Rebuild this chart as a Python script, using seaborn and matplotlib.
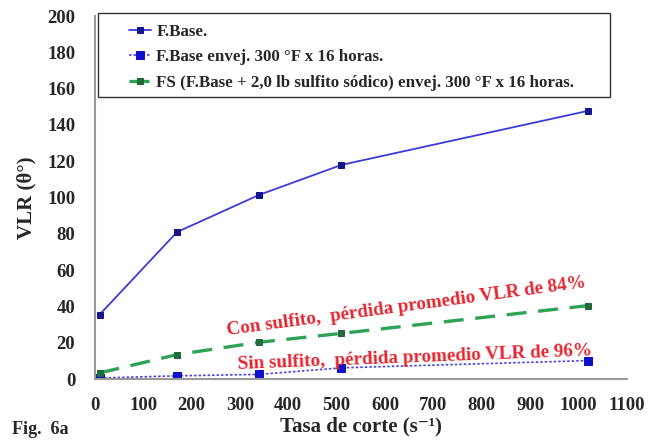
import numpy as np
import pandas as pd
import matplotlib
matplotlib.use("Agg")
import matplotlib.pyplot as plt
import matplotlib.patches as mpatches
import seaborn as sns

# ---- data ----
shear_rate = [10, 170, 340, 510, 1020]
vlr_base = [35.5, 81, 101.5, 118, 147.8]
vlr_aged = [0.6, 1.8, 2.6, 6.2, 10.2]
vlr_fs = [3.4, 13.5, 20.3, 25.2, 40.5]
labels = ["F.Base.",
          "F.Base envej. 300 °F x 16 horas.",
          "FS (F.Base + 2,0 lb sulfito sódico) envej. 300 °F x 16 horas."]
x_ticks = [0, 100, 200, 300, 400, 500, 600, 700, 800, 900, 1000, 1100]
y_ticks = [0, 20, 40, 60, 80, 100, 120, 140, 160, 180, 200]

sns.set_style("white")
plt.rcParams['font.family'] = ['Liberation Serif', 'DejaVu Serif']
plt.rcParams['font.weight'] = 'bold'

fig = plt.figure(figsize=(6.49, 4.46), dpi=100)
ax = fig.add_axes([0.146, 0.150, 0.820, 0.814])

sns.lineplot(x=shear_rate, y=vlr_base, ax=ax, color="#3b3bd6", lw=1.3,
             marker="s", markersize=4.5, markerfacecolor="#14148c",
             markeredgecolor="#14148c", label=labels[0])
sns.lineplot(x=shear_rate, y=vlr_aged, ax=ax, color="#4545e6", lw=1.2,
             linestyle=(0, (1.5, 1.2)), marker="s", markersize=6,
             markerfacecolor="#1010c8", markeredgecolor="#1010c8", label=labels[1])
sns.lineplot(x=shear_rate, y=vlr_fs, ax=ax, color="#2ea356", lw=2.4,
             linestyle=(0, (6, 3.5)), marker="s", markersize=4,
             markerfacecolor="#1f6b3a", markeredgecolor="#1f6b3a", label=labels[2])

ax.set_xlim(0, 1100)
ax.set_ylim(0, 200)
ax.set_xticks(x_ticks)
ax.set_yticks(y_ticks)
ax.tick_params(axis='x', direction='inout', length=8, width=1.2, color='#999999',
               labelsize=13.5, pad=9)
ax.tick_params(axis='y', direction='out', length=5, width=1.2, color='#999999',
               labelsize=13.5, pad=9)
for lab in ax.get_xticklabels() + ax.get_yticklabels():
    lab.set_fontweight('bold')
for s in ['top', 'right']:
    ax.spines[s].set_visible(False)
for s in ['left', 'bottom']:
    ax.spines[s].set_color('#999999')
    ax.spines[s].set_linewidth(1.5)

ax.set_xlabel("Tasa de corte (s⁻¹)", fontsize=15, fontweight='bold', labelpad=2)
ax.set_ylabel("VLR (θ°)", fontsize=15, fontweight='bold', labelpad=8)

# legend with manual frame
leg = ax.legend(loc='upper left', bbox_to_anchor=(0.052, 0.997), frameon=False,
                fontsize=12.2, handlelength=1.3, handletextpad=0.3, labelspacing=0.55,
                borderaxespad=0)
for t in leg.get_texts():
    t.set_fontweight('bold')
frame = mpatches.Rectangle((0.006, 0.777), 0.962, 0.231, transform=ax.transAxes,
                           facecolor='white', edgecolor='#333333', lw=1.0,
                           clip_on=False, zorder=2.5)
shadow = mpatches.Shadow(frame, 2.5, -2.5, facecolor='#222222', alpha=1.0, clip_on=False)
ax.add_patch(shadow)
ax.add_patch(frame)
leg.set_zorder(3)

ax.text(275, 24, "Con sulfito,  pérdida promedio VLR de 84%", color="#e52630",
        fontsize=13.8, fontweight='bold', rotation=7.6, rotation_mode='anchor',
        ha='left', va='baseline')
ax.text(296, 5.5, "Sin sulfito,  pérdida promedio VLR de 96%", color="#e52630",
        fontsize=13.8, fontweight='bold', rotation=2.2, rotation_mode='anchor',
        ha='left', va='baseline')

fig.text(12 / 649, 1 - 434 / 446, "Fig.  6a", fontsize=13, fontweight='bold',
         ha='left', va='baseline')

fig.savefig("out.png", dpi=100, facecolor='white')
